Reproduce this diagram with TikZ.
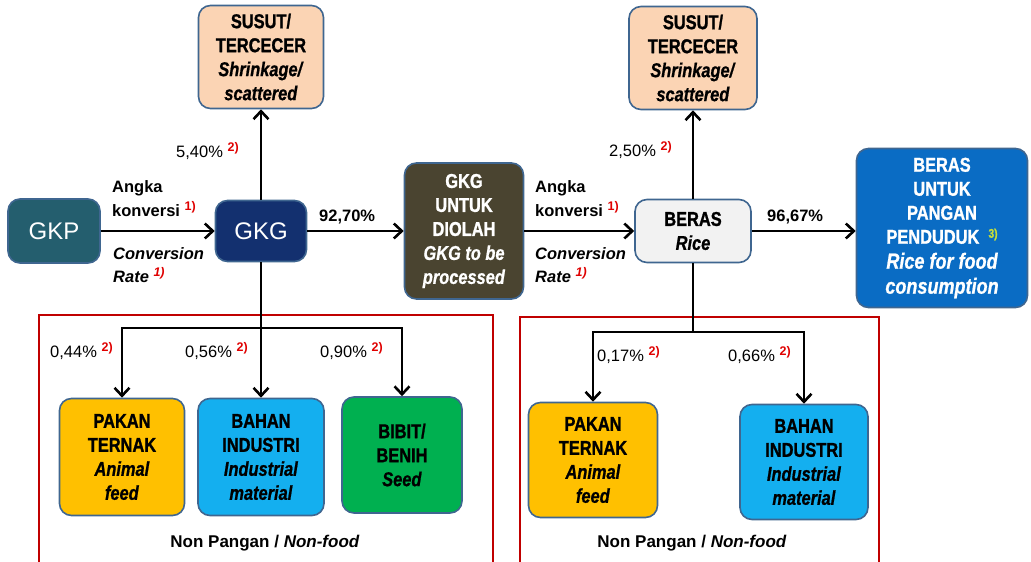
\documentclass[tikz,border=0pt]{standalone}
\usepackage{fontspec}
\setmainfont{Liberation Sans}
\newfontfamily\narrowfont[FakeStretch=0.82, BoldFeatures={FakeBold=1.2}, BoldItalicFeatures={FakeBold=0.8}]{Liberation Sans}
\usetikzlibrary{arrows.meta}

\definecolor{gkpTeal}{HTML}{245E6E}
\definecolor{gkgNavy}{HTML}{13306F}
\definecolor{olahOlive}{HTML}{4A4430}
\definecolor{susutPeach}{HTML}{FBD4B4}
\definecolor{berasGray}{HTML}{F2F2F2}
\definecolor{panganBlue}{HTML}{0A6CC4}
\definecolor{feedYellow}{HTML}{FFC000}
\definecolor{industryCyan}{HTML}{14AFEF}
\definecolor{seedGreen}{HTML}{00B050}
\definecolor{edgeBlue}{HTML}{3F6690}
\definecolor{frameRed}{HTML}{C00000}
\definecolor{markRed}{HTML}{E00000}
\definecolor{markLime}{HTML}{C6DE3A}

\newcommand{\lblfont}{\fontsize{16.5}{20}\selectfont}
\newcommand{\refmark}[2][markRed]{\raisebox{6pt}{\fontsize{12.5}{13}\selectfont\bfseries\color{#1}#2}}

\begin{document}
\begin{tikzpicture}[x=1pt, y=1pt,
  box/.style={draw=edgeBlue, line width=1.6pt, rounded corners=12pt, align=center, inner sep=0pt,
    font=\narrowfont\bfseries\fontsize{20}{24}\selectfont},
  bigbox/.style={box, text=white, font=\fontsize{24}{28}\selectfont},
  flow/.style={line width=2.6pt, -{Straight Barb[length=8pt,width=15pt]}},
  link/.style={line width=2.6pt},
  lbl/.style={anchor=base west, inner sep=0pt, font=\lblfont},
  lblbold/.style={lbl, font=\lblfont\bfseries},
  lblital/.style={lbl, font=\lblfont\bfseries\itshape},
  frame/.style={draw=frameRed, line width=1.8pt}]
\clip (0,0) rectangle (1031,562);
\fill[white] (0,0) rectangle (1031,562);

\draw[frame] (39,-10) rectangle (493,247);
\draw[frame] (520,-10) rectangle (879,245);

\node[bigbox, fill=gkpTeal, minimum width=92pt, minimum height=64pt] (gkp) at (54,331) {GKP};
\node[bigbox, fill=gkgNavy, minimum width=91pt, minimum height=61pt] (gkg) at (261,331) {GKG};
\node[box, fill=susutPeach, minimum width=125pt, minimum height=103pt] (susutA) at (261,505)
  {SUSUT/\\TERCECER\\\textit{Shrinkage/}\\\textit{scattered}};
\node[box, fill=olahOlive, text=white, minimum width=119pt, minimum height=136pt] (olah) at (464,331)
  {GKG\\UNTUK\\DIOLAH\\\textit{GKG to be}\\\textit{processed}};
\node[box, fill=berasGray, minimum width=116pt, minimum height=63pt] (beras) at (693,331)
  {BERAS\\\textit{Rice}};
\node[box, fill=susutPeach, minimum width=128pt, minimum height=103pt] (susutB) at (693,504)
  {SUSUT/\\TERCECER\\\textit{Shrinkage/}\\\textit{scattered}};
\node[box, fill=panganBlue, text=white, minimum width=171pt, minimum height=159pt] (pangan) at (942,334)
  {BERAS\\UNTUK\\PANGAN\\PENDUDUK\ \ \refmark[markLime]{3)}\\[1pt]
   {\fontsize{22}{26}\selectfont\itshape Rice for food}\\[1pt]
   {\fontsize{22}{26}\selectfont\itshape consumption}};

\node[box, fill=feedYellow, minimum width=125pt, minimum height=117pt] (pakanA) at (122,105)
  {PAKAN\\TERNAK\\\textit{Animal}\\\textit{feed}};
\node[box, fill=industryCyan, minimum width=126pt, minimum height=117pt] (bahanA) at (261,105)
  {BAHAN\\INDUSTRI\\\textit{Industrial}\\\textit{material}};
\node[box, fill=seedGreen, minimum width=120pt, minimum height=116pt] (bibit) at (402,107)
  {BIBIT/\\BENIH\\\textit{Seed}};
\node[box, fill=feedYellow, minimum width=129pt, minimum height=115pt] (pakanB) at (593,102)
  {PAKAN\\TERNAK\\\textit{Animal}\\\textit{feed}};
\node[box, fill=industryCyan, minimum width=128pt, minimum height=115pt] (bahanB) at (804,100)
  {BAHAN\\INDUSTRI\\\textit{Industrial}\\\textit{material}};

\coordinate (splitA) at (261,234);
\coordinate (splitB) at (693,230);

\draw[flow] (gkp) -- (gkg);
\draw[flow] (gkg) -- (olah);
\draw[flow] (olah) -- (beras);
\draw[flow] (beras) -- (beras -| pangan.west);
\draw[flow] (gkg) -- (susutA);
\draw[flow] (beras) -- (susutB);
\draw[link] (gkg) -- (splitA);
\draw[flow] (splitA) -| (pakanA);
\draw[flow] (splitA) -- (bahanA);
\draw[flow] (splitA) -| (bibit);
\draw[link] (beras) -- (splitB);
\draw[flow] (splitB) -| (pakanB);
\draw[flow] (splitB) -| (bahanB);

\node[lbl] (lossA) at (176,404) {5,40\% \refmark{2)}};
\node[lblbold] (angkaA) at (112,369) {Angka};
\node[lblbold] (konvA) at (112,345) {konversi \refmark{1)}};
\node[lblital] (convA) at (113,302) {Conversion};
\node[lblital] (rateA) at (113,279) {Rate \refmark{1)}};
\node[lblbold] (shareA) at (319,340) {92,70\%};

\node[lbl] (lossB) at (609,405) {2,50\% \refmark{2)}};
\node[lblbold] (angkaB) at (535,369) {Angka};
\node[lblbold] (konvB) at (535,345) {konversi \refmark{1)}};
\node[lblital] (convB) at (535,302) {Conversion};
\node[lblital] (rateB) at (535,279) {Rate \refmark{1)}};
\node[lblbold] (shareB) at (767,340) {96,67\%};

\node[lbl] (feedA) at (50,204) {0,44\% \refmark{2)}};
\node[lbl] (indA) at (185,204) {0,56\% \refmark{2)}};
\node[lbl] (seedA) at (320,204) {0,90\% \refmark{2)}};
\node[lbl] (feedB) at (597,200) {0,17\% \refmark{2)}};
\node[lbl] (indB) at (728,200) {0,66\% \refmark{2)}};

\node[anchor=base, font=\fontsize{17}{20}\selectfont\bfseries] (nonfoodA) at (265,14) {Non Pangan / \textit{Non-food}};
\node[anchor=base, font=\fontsize{17}{20}\selectfont\bfseries] (nonfoodB) at (692,14) {Non Pangan / \textit{Non-food}};
\end{tikzpicture}
\end{document}
